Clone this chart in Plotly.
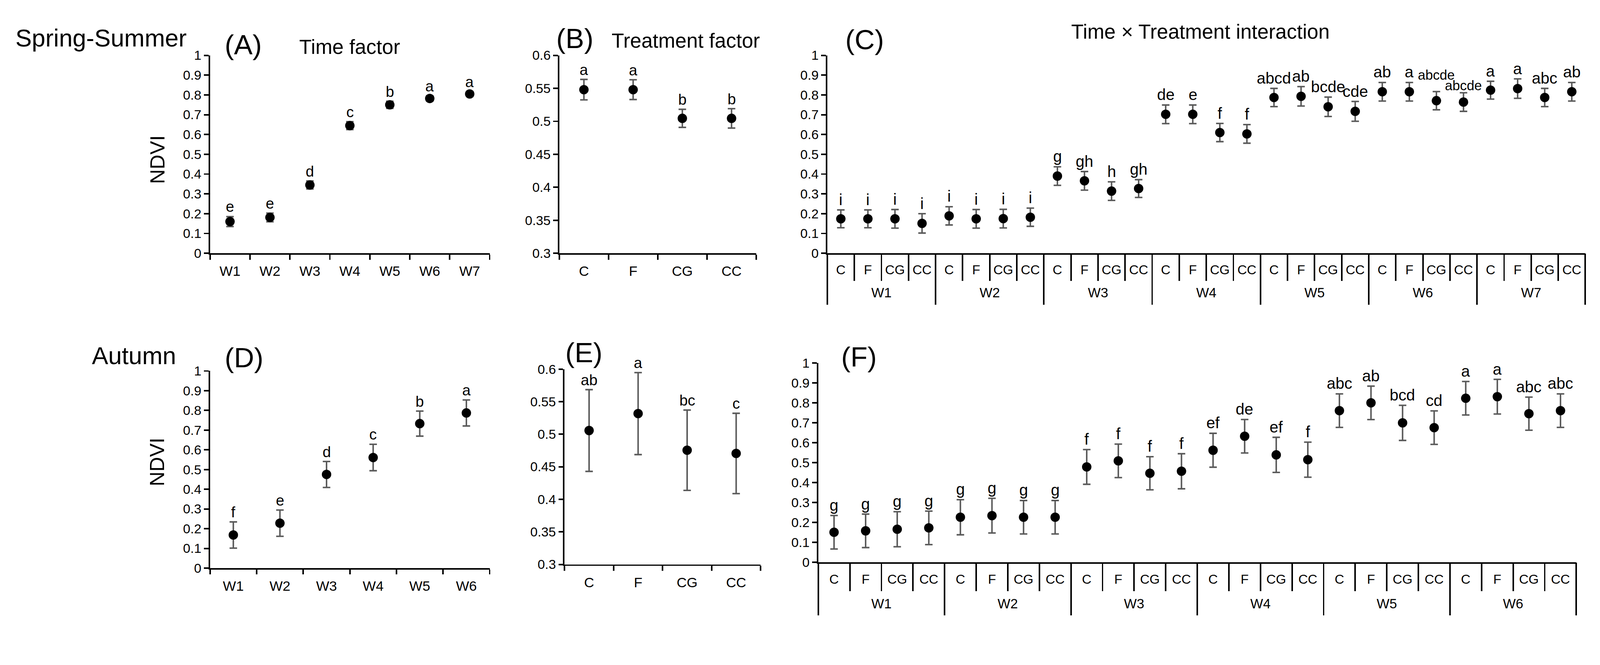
import plotly.graph_objects as go

W_PX, H_PX = 4251, 1702
FONT = "Arial, 'Liberation Sans', Helvetica, sans-serif"

# ---------------- data ----------------
weeks_ss = ["W1", "W2", "W3", "W4", "W5", "W6", "W7"]
weeks_au = ["W1", "W2", "W3", "W4", "W5", "W6"]
treatments = ["C", "F", "CG", "CC"]

ndvi_ticks = [0, 0.1, 0.2, 0.3, 0.4, 0.5, 0.6, 0.7, 0.8, 0.9, 1.0]
ndvi_tick_labels = ["0", "0.1", "0.2", "0.3", "0.4", "0.5", "0.6", "0.7", "0.8", "0.9", "1"]
trt_ticks = [0.3, 0.35, 0.4, 0.45, 0.5, 0.55, 0.6]
trt_tick_labels = ["0.3", "0.35", "0.4", "0.45", "0.5", "0.55", "0.6"]

# (A) Spring-Summer, time factor
ss_time_mean = [0.160, 0.181, 0.345, 0.645, 0.750, 0.782, 0.805]
ss_time_se = [0.025, 0.022, 0.020, 0.020, 0.018, 0.013, 0.013]
ss_time_letters = ["e", "e", "d", "c", "b", "a", "a"]

# (B) Spring-Summer, treatment factor
ss_trt_mean = [0.548, 0.548, 0.5045, 0.5045]
ss_trt_se = [0.0155, 0.0150, 0.0137, 0.0147]
ss_trt_letters = ["a", "a", "b", "b"]

# (C) Spring-Summer, time x treatment (W1..W7, each C, F, CG, CC)
ss_int_mean = [0.174, 0.174, 0.174, 0.151,
               0.189, 0.174, 0.175, 0.182,
               0.390, 0.366, 0.314, 0.327,
               0.702, 0.702, 0.610, 0.603,
               0.787, 0.793, 0.740, 0.717,
               0.816, 0.816, 0.771, 0.764,
               0.824, 0.832, 0.787, 0.816]
ss_int_se = [0.045, 0.045, 0.047, 0.049,
             0.046, 0.047, 0.047, 0.046,
             0.047, 0.047, 0.047, 0.045,
             0.047, 0.047, 0.046, 0.047,
             0.046, 0.049, 0.049, 0.050,
             0.047, 0.047, 0.046, 0.047,
             0.045, 0.049, 0.046, 0.047]
ss_int_letters = ["i", "i", "i", "i",
                  "i", "i", "i", "i",
                  "g", "gh", "h", "gh",
                  "de", "e", "f", "f",
                  "abcd", "ab", "bcde", "cde",
                  "ab", "a", "abcde", "abcde",
                  "a", "a", "abc", "ab"]

# (D) Autumn, time factor
au_time_mean = [0.168, 0.228, 0.475, 0.561, 0.733, 0.787]
au_time_se = [0.0665, 0.0665, 0.066, 0.067, 0.0635, 0.066]
au_time_letters = ["f", "e", "d", "c", "b", "a"]

# (E) Autumn, treatment factor
au_trt_mean = [0.5057, 0.5317, 0.4754, 0.4705]
au_trt_se = [0.0628, 0.0630, 0.0617, 0.0617]
au_trt_letters = ["ab", "a", "bc", "c"]

# (F) Autumn, time x treatment (W1..W6, each C, F, CG, CC)
au_int_mean = [0.1505, 0.1575, 0.1655, 0.1725,
               0.2257, 0.2337, 0.2257, 0.2257,
               0.478, 0.5085, 0.4463, 0.4564,
               0.5617, 0.6319, 0.5386, 0.5145,
               0.7603, 0.7994, 0.699, 0.675,
               0.8225, 0.8305, 0.7452, 0.7603]
au_int_se = [0.084, 0.084, 0.088, 0.084,
             0.088, 0.087, 0.084, 0.084,
             0.087, 0.084, 0.083, 0.088,
             0.085, 0.084, 0.088, 0.088,
             0.084, 0.084, 0.088, 0.084,
             0.084, 0.087, 0.083, 0.084]
au_int_letters = ["g", "g", "g", "g",
                  "g", "g", "g", "g",
                  "f", "f", "f", "f",
                  "ef", "de", "ef", "f",
                  "abc", "ab", "bcd", "cd",
                  "a", "a", "abc", "abc"]

# ---------------- helpers ----------------
def dom_x(a, b):
    return [a / W_PX, b / W_PX]


def dom_y(top, bottom):
    return [1 - bottom / H_PX, 1 - top / H_PX]


fig = go.Figure()

ERR = dict(type="data", symmetric=True, color="#595959", thickness=4, width=10)


def add_points(x, mean, se, xa, ya):
    fig.add_trace(go.Scatter(
        x=x, y=mean, mode="markers",
        marker=dict(size=25, color="black", line=dict(width=0)),
        error_y=dict(array=se, **ERR),
        xaxis=xa, yaxis=ya, showlegend=False, cliponaxis=False,
        hoverinfo="x+y"))


def add_letters(x, mean, se, letters, xa, ya, size=42, overrides=None):
    overrides = overrides or {}
    for i, (xi, m, s, l) in enumerate(zip(x, mean, se, letters)):
        o = overrides.get(i, {})
        fig.add_annotation(
            x=xi, y=m + s, xref=xa, yref=ya, text=l, showarrow=False,
            yanchor="bottom", xanchor="center",
            yshift=o.get("yshift", 2),
            font=dict(size=o.get("size", size), color="black", family=FONT))


AX = dict(showline=True, linecolor="black", linewidth=4, showgrid=False,
          zeroline=False, ticks="outside", tickcolor="black", tickwidth=4,
          tickfont=dict(size=35, color="black", family=FONT), fixedrange=True)


def y_axis(dom, vals, labels, rng, anchor):
    return dict(AX, domain=dom, range=rng, tickmode="array", tickvals=vals,
                ticktext=labels, ticklen=12, anchor=anchor)


def cat_x_axis(dom, cats, anchor):
    return dict(AX, domain=dom, type="category", categoryorder="array",
                categoryarray=cats, range=[-0.5, len(cats) - 0.5],
                tickson="boundaries", ticklen=13, anchor=anchor,
                ticklabelstandoff=12,
                tickfont=dict(size=37, color="black", family=FONT))


# ---------------- panels ----------------
TOP_Y = dom_y(130, 668)
layout_axes = {}

# A
add_points(weeks_ss, ss_time_mean, ss_time_se, "x", "y")
add_letters(weeks_ss, ss_time_mean, ss_time_se, ss_time_letters, "x", "y", size=40)
layout_axes["xaxis"] = cat_x_axis(dom_x(558, 1301), weeks_ss, "y")
layout_axes["yaxis"] = y_axis(TOP_Y, ndvi_ticks, ndvi_tick_labels, [0, 1], "x")

# B
add_points(treatments, ss_trt_mean, ss_trt_se, "x2", "y2")
add_letters(treatments, ss_trt_mean, ss_trt_se, ss_trt_letters, "x2", "y2", size=40)
layout_axes["xaxis2"] = cat_x_axis(dom_x(1486, 2009), treatments, "y2")
layout_axes["yaxis2"] = y_axis(TOP_Y, trt_ticks, trt_tick_labels, [0.3, 0.6], "x2")


def interaction_axes(weeks, xdom, base, yname, sub_off, grp_off, sub_len, grp_len):
    n = len(weeks) * len(treatments)
    base_ax = dict(AX, domain=xdom, type="linear", range=[-0.5, n - 0.5],
                   tickmode="array", tickvals=list(range(n)),
                   ticktext=treatments * len(weeks), ticks="",
                   ticklabelstandoff=sub_off,
                   tickfont=dict(size=35, color="black", family=FONT),
                   minor=dict(ticks="outside", tickmode="array",
                              tickvals=[i - 0.5 for i in range(n + 1)],
                              ticklen=sub_len, tickwidth=4, tickcolor="black"),
                   anchor=yname)
    g = len(treatments)
    over_ax = dict(AX, type="linear", range=[-0.5, n - 0.5], overlaying=base,
                   anchor=yname, side="bottom", showline=False,
                   tickmode="array",
                   tickvals=[k * g + (g - 1) / 2 for k in range(len(weeks))],
                   ticktext=weeks, ticks="", ticklabelstandoff=grp_off,
                   tickfont=dict(size=36, color="black", family=FONT),
                   minor=dict(ticks="outside", tickmode="array",
                              tickvals=[k * g - 0.5 for k in range(len(weeks) + 1)],
                              ticklen=grp_len, tickwidth=4, tickcolor="black"))
    return base_ax, over_ax, n


# C
bc, oc, nc = interaction_axes(weeks_ss, dom_x(2198, 4212), "x3", "y3", 10, 80, 70, 136)
xc = list(range(nc))
add_points(xc, ss_int_mean, ss_int_se, "x3", "y3")
add_letters(xc, ss_int_mean, ss_int_se, ss_int_letters, "x3", "y3",
            overrides={22: dict(size=36, yshift=21), 23: dict(size=36, yshift=-4)})
fig.add_trace(go.Scatter(x=[k * 4 + 1.5 for k in range(len(weeks_ss))],
                         y=[None] * len(weeks_ss), xaxis="x7", yaxis="y3",
                         mode="markers", showlegend=False, hoverinfo="skip"))
layout_axes["xaxis3"] = bc
layout_axes["xaxis7"] = oc
layout_axes["yaxis3"] = y_axis(TOP_Y, ndvi_ticks, ndvi_tick_labels, [0, 1], "x3")

# D
add_points(weeks_au, au_time_mean, au_time_se, "x4", "y4")
add_letters(weeks_au, au_time_mean, au_time_se, au_time_letters, "x4", "y4", size=40)
layout_axes["xaxis4"] = cat_x_axis(dom_x(558, 1301), weeks_au, "y4")
layout_axes["yaxis4"] = y_axis(dom_y(988, 1524), ndvi_ticks, ndvi_tick_labels, [0, 1], "x4")

# E
add_points(treatments, au_trt_mean, au_trt_se, "x5", "y5")
add_letters(treatments, au_trt_mean, au_trt_se, au_trt_letters, "x5", "y5", size=40)
layout_axes["xaxis5"] = cat_x_axis(dom_x(1500, 2021), treatments, "y5")
layout_axes["yaxis5"] = y_axis(dom_y(983, 1514), trt_ticks, trt_tick_labels, [0.3, 0.6], "x5")

# F
bf, of, nf = interaction_axes(weeks_au, dom_x(2174, 4188), "x6", "y6", 11, 85, 73, 140)
xf = list(range(nf))
add_points(xf, au_int_mean, au_int_se, "x6", "y6")
add_letters(xf, au_int_mean, au_int_se, au_int_letters, "x6", "y6")
fig.add_trace(go.Scatter(x=[k * 4 + 1.5 for k in range(len(weeks_au))],
                         y=[None] * len(weeks_au), xaxis="x8", yaxis="y6",
                         mode="markers", showlegend=False, hoverinfo="skip"))
layout_axes["xaxis6"] = bf
layout_axes["xaxis8"] = of
layout_axes["yaxis6"] = y_axis(dom_y(966, 1508), ndvi_ticks, ndvi_tick_labels, [0, 1], "x6")

# ---------------- text ----------------
def paper_text(text, x_px, y_px, size, xanchor="left", angle=0):
    fig.add_annotation(text=text, x=x_px / W_PX, y=1 - y_px / H_PX,
                       xref="paper", yref="paper", showarrow=False,
                       xanchor=xanchor, yanchor="middle", textangle=angle,
                       font=dict(size=size, color="black", family=FONT))


paper_text("Spring-Summer", 39, 83, 65)
paper_text("Autumn", 242, 946, 65)
paper_text("(A)", 595, 101, 74)
paper_text("(B)", 1476, 84, 74)
paper_text("(C)", 2244, 87, 74)
paper_text("(D)", 595, 952, 74)
paper_text("(E)", 1500, 938, 74)
paper_text("(F)", 2233, 950, 74)
paper_text("Time factor", 793, 106, 54)
paper_text("Treatment factor", 1623, 90, 54)
paper_text("Time \u00d7 Treatment interaction", 2844, 65, 54)
paper_text("NDVI", 417, 414, 54, xanchor="center", angle=-90)
paper_text("NDVI", 417, 1236, 54, xanchor="center", angle=-90)

fig.update_layout(
    width=W_PX, height=H_PX, autosize=False,
    margin=dict(l=0, r=0, t=0, b=0, pad=0),
    paper_bgcolor="white", plot_bgcolor="white",
    font=dict(family=FONT, color="black"),
    showlegend=False,
    **layout_axes)

# fit the fixed-size figure into the browser viewport width (uniform scale)
FIT_JS = """
var gd = document.getElementById('{plot_id}');
document.documentElement.style.margin = '0';
document.body.style.margin = '0';
document.documentElement.style.overflow = 'hidden';
document.body.style.overflow = 'hidden';
var s = Math.min(1, window.innerWidth / %d);
gd.style.transformOrigin = '0 0';
gd.style.transform = 'scale(' + s + ')';
""" % W_PX

fig.write_html("out.html", post_script=FIT_JS, config={"displayModeBar": False})
